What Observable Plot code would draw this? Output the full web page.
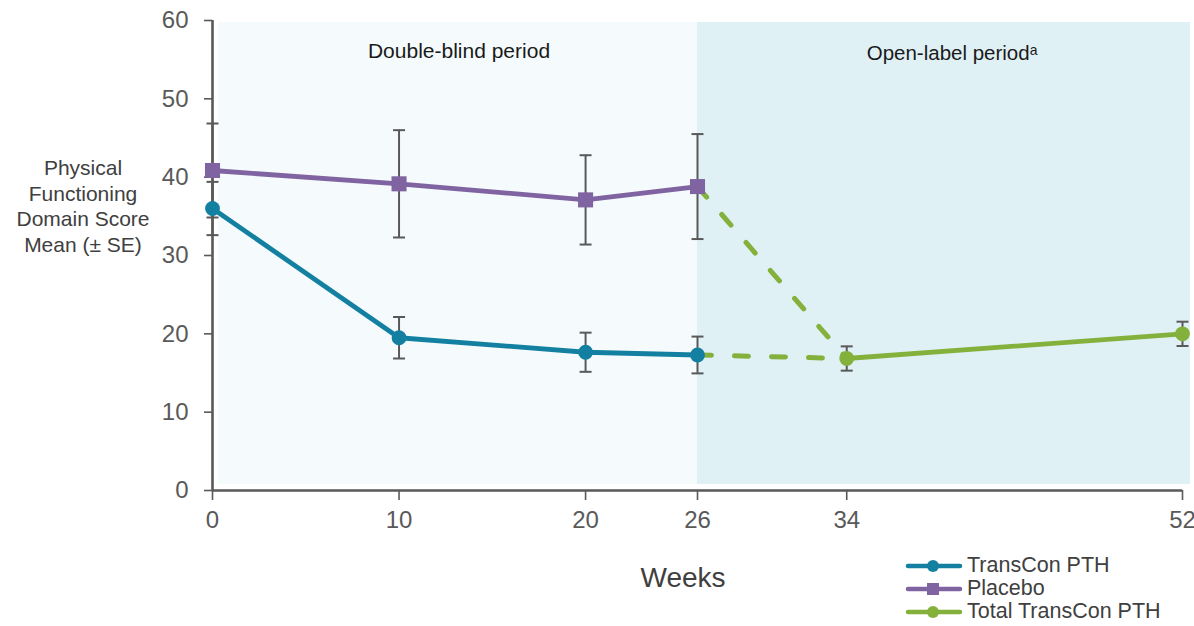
<!DOCTYPE html>
<html>
<head>
<meta charset="utf-8">
<script src="https://cdn.jsdelivr.net/npm/d3@7"></script>
<script src="https://cdn.jsdelivr.net/npm/@observablehq/plot@0.6"></script>
<style>
  body { margin: 0; background: #fff; font-family: "Liberation Sans", Arial, sans-serif; }
  #wrap { position: relative; width: 1194px; height: 626px; }
  #ylabel { position: absolute; left: 0; width: 166px; top: 155px; text-align: center;
            font-size: 21px; line-height: 25.7px; color: #404040; }
  #xlabel { position: absolute; left: 583px; width: 200px; top: 561px; text-align: center;
            font-size: 28px; line-height: 34px; color: #404040; }
  #legend { position: absolute; left: 905px; top: 554px; font-size: 21.5px; color: #404040; }
  .row { display: flex; align-items: center; height: 23px; white-space: nowrap; }
  .row svg { margin-right: 4px; }
</style>
</head>
<body>
<div id="wrap">
  <div id="chart"></div>
  <div id="ylabel">Physical<br>Functioning<br>Domain Score<br>Mean (± SE)</div>
  <div id="xlabel">Weeks</div>
  <div id="legend"></div>
</div>
<script>
// Double-blind visits (weeks) and group means / standard errors
const weeks = [0, 10, 20, 26];
const transconMean = [36.0, 19.5, 17.65, 17.3];
const transconSE = [3.4, 2.65, 2.5, 2.35];
const placeboMean = [40.85, 39.15, 37.1, 38.8];
const placeboSE = [6.0, 6.85, 5.7, 6.7];

// Open-label visits: all patients on TransCon PTH
const openWeeks = [34, 52];
const totalMean = [16.85, 20.0];
const totalSE = [1.55, 1.55];

const xTicks = [0, 10, 20, 26, 34, 52];
const yTicks = [0, 10, 20, 30, 40, 50, 60];

const periodLabels = ["Double-blind period", "Open-label period\u1d43"];
const periodStarts = [0, 26];
const periodEnds = [26, 52];

const seriesNames = ["TransCon PTH", "Placebo", "Total TransCon PTH"];
const seriesColors = ["#1380a1", "#8064a2", "#84b13b"];
const axisColor = "#595959";

const rowsOf = (ws, means, ses, series) =>
  ws.map((w, i) => ({week: w, mean: means[i], se: ses[i], series}));

const transcon = rowsOf(weeks, transconMean, transconSE, seriesNames[0]);
const placebo = rowsOf(weeks, placeboMean, placeboSE, seriesNames[1]);
const total = rowsOf(openWeeks, totalMean, totalSE, seriesNames[2]);
const allPoints = [...transcon, ...placebo, ...total];

// Switch-over segments from week 26 of each arm to the first open-label visit
const last = weeks.length - 1;
const switchRows = [
  {seg: "placebo", week: weeks[last], mean: placeboMean[last]},
  {seg: "placebo", week: openWeeks[0], mean: totalMean[0]},
  {seg: "transcon", week: weeks[last], mean: transconMean[last]},
  {seg: "transcon", week: openWeeks[0], mean: totalMean[0]}
];

const periods = periodLabels.map((label, i) => ({label, start: periodStarts[i], end: periodEnds[i]}));

// Horizontal cap for error bars
const capSymbol = {
  draw(context, size) {
    const r = Math.sqrt(size / Math.PI);
    context.moveTo(-r, 0);
    context.lineTo(r, 0);
  }
};

const font = '"Liberation Sans", Arial, sans-serif';

const chart = Plot.plot({
  width: 1194,
  height: 626,
  marginLeft: 212,
  marginRight: 12,
  marginTop: 20,
  marginBottom: 136,
  x: {domain: [0, 52]},
  y: {domain: [0, 60]},
  style: {fontFamily: font, background: "transparent", overflow: "visible"},
  marks: [
    Plot.rect([periods[0]], {x1: "start", x2: "end", fill: "#f5fbfc", insetLeft: 6, insetTop: 2, insetBottom: 6}),
    Plot.rect([periods[1]], {x1: "start", x2: "end", fill: "#e0f1f6", insetRight: -8, insetTop: 2, insetBottom: 6}),
    Plot.text([periods[0]], {x: d => (d.start + d.end) / 2, text: "label", frameAnchor: "top", dy: 23, dx: 4,
      fontSize: 21, fill: "#1a1a1a"}),
    Plot.text([periods[1]], {x: d => (d.start + d.end) / 2, text: "label", frameAnchor: "top", dy: 25, dx: 12,
      fontSize: 20.5, fill: "#1a1a1a"}),
    Plot.axisY({ticks: yTicks, tickSize: 8, tickPadding: 16, fontSize: 24, stroke: axisColor, fill: axisColor,
      strokeWidth: 1.6, label: null}),
    Plot.axisX({ticks: xTicks, tickSize: 10, tickPadding: 10, fontSize: 24, stroke: axisColor, fill: axisColor,
      strokeWidth: 1.6, label: null}),
    Plot.ruleX([0], {stroke: axisColor, strokeWidth: 2.6}),
    Plot.ruleY([0], {stroke: axisColor, strokeWidth: 2.6}),
    Plot.line(switchRows, {x: "week", y: "mean", z: "seg", stroke: seriesColors[2], strokeWidth: 5,
      strokeDasharray: "14,23", strokeLinecap: "round"}),
    Plot.line(transcon, {x: "week", y: "mean", stroke: seriesColors[0], strokeWidth: 4.8}),
    Plot.line(placebo, {x: "week", y: "mean", stroke: seriesColors[1], strokeWidth: 4.8}),
    Plot.line(total, {x: "week", y: "mean", stroke: seriesColors[2], strokeWidth: 4.8}),
    Plot.ruleX(allPoints, {x: "week", y1: d => d.mean - d.se, y2: d => d.mean + d.se, stroke: axisColor, strokeWidth: 2}),
    Plot.dot(allPoints, {x: "week", y: d => d.mean + d.se, symbol: capSymbol, r: 6, stroke: axisColor, strokeWidth: 2, fill: "none"}),
    Plot.dot(allPoints, {x: "week", y: d => d.mean - d.se, symbol: capSymbol, r: 6, stroke: axisColor, strokeWidth: 2, fill: "none"}),
    Plot.dot(transcon, {x: "week", y: "mean", r: 7.4, fill: seriesColors[0], stroke: "none"}),
    Plot.dot(placebo, {x: "week", y: "mean", symbol: "square", r: 8.5, fill: seriesColors[1], stroke: "none"}),
    Plot.dot(total, {x: "week", y: "mean", r: 7.4, fill: seriesColors[2], stroke: "none"})
  ]
});
document.getElementById("chart").append(chart);

// Legend: line swatch with marker, then series name
const legend = d3.select("#legend");
seriesNames.forEach((name, i) => {
  const row = legend.append("div").attr("class", "row");
  const svg = row.append("svg").attr("width", 58).attr("height", 18);
  svg.append("line").attr("x1", 3).attr("x2", 55).attr("y1", 9).attr("y2", 9)
    .attr("stroke", seriesColors[i]).attr("stroke-width", 4.5).attr("stroke-linecap", "round");
  if (i === 1) {
    svg.append("rect").attr("x", 22).attr("y", 3).attr("width", 12).attr("height", 12).attr("fill", seriesColors[i]);
  } else {
    svg.append("circle").attr("cx", 28).attr("cy", 9).attr("r", 6).attr("fill", seriesColors[i]);
  }
  row.append("span").text(name);
});
</script>
</body>
</html>
